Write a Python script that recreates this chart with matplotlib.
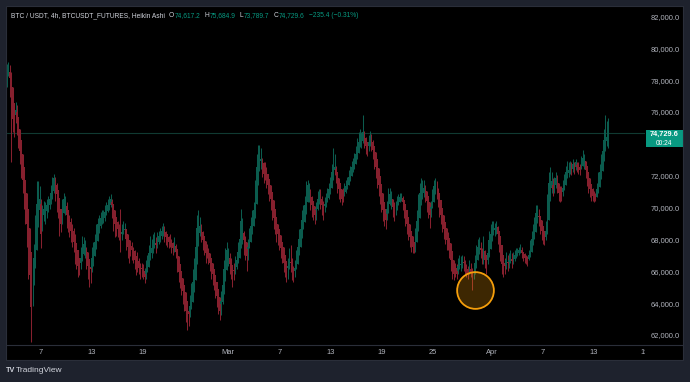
import numpy as np
import matplotlib
matplotlib.use('Agg')
import matplotlib.pyplot as plt
from matplotlib.patches import Rectangle
from matplotlib.lines import Line2D

plt.rcParams['font.family'] = ['Liberation Sans', 'DejaVu Sans']

W, H = 690, 382

# BTCUSDT perp, 4h Heikin Ashi candles, one row per day (values in k USDT)
start = np.datetime64('2026-02-03T00:00')
first_open = 78.0

ha_close = [
    78.6, 78.9, 78.2, 76.8, 75.6, 75.2,  # Feb 3
    76.2, 75.4, 74.3, 73.6, 72.6, 71.8,
    71.0, 70.2, 69.0, 67.6, 65.8, 63.8,
    65.6, 66.9, 68.6, 70.3, 71.0, 70.6,
    68.4, 69.8, 70.0, 69.9, 70.2, 70.4,  # Feb 7
    70.6, 71.0, 71.5, 71.9, 71.4, 70.9,
    70.2, 69.2, 69.0, 70.0, 70.6, 70.2,
    69.6, 69.2, 68.8, 68.6, 68.3, 67.9,
    67.4, 67.0, 66.4, 66.2, 66.9, 67.6,
    67.8, 67.6, 67.0, 66.4, 65.8, 66.2,
    66.9, 67.5, 67.9, 68.5, 69.0, 69.3,  # Feb 13
    69.4, 69.6, 69.5, 69.8, 70.1, 70.2,
    70.4, 70.6, 70.2, 69.5, 69.0, 68.8,
    68.7, 68.4, 68.2, 68.5, 68.9, 68.7,
    68.1, 67.6, 67.3, 67.6, 67.4, 67.1,
    66.8, 66.4, 66.7, 66.3, 66.0, 66.2,
    65.9, 65.7, 66.2, 66.6, 67.2, 67.7,  # Feb 19
    67.5, 67.9, 68.0, 67.7, 68.1, 68.3,
    68.4, 68.6, 68.8, 68.5, 68.2, 68.0,
    67.9, 68.0, 67.6, 67.5, 67.7, 67.3,
    66.6, 66.0, 65.7, 65.2, 64.8, 64.3,
    63.6, 63.0, 63.4, 63.9, 64.6, 65.4,
    66.2, 67.6, 68.8, 69.2, 68.9, 68.4,
    68.0, 67.6, 67.2, 67.4, 67.0, 66.6,
    66.2, 65.9, 65.4, 65.0, 64.5, 64.0,
    63.6, 64.2, 65.2, 66.2, 66.9, 67.4,
    67.0, 66.5, 66.2, 65.8, 66.1, 66.5,  # Mar 1
    66.8, 67.3, 68.1, 69.2, 68.6, 68.0,
    67.5, 67.0, 67.6, 68.3, 68.9, 69.4,
    69.9, 71.2, 72.6, 73.3, 73.6, 73.1,
    72.7, 72.2, 72.4, 71.9, 71.5, 71.1,
    70.6, 70.0, 69.4, 69.0, 68.6, 68.4,
    68.0, 67.5, 67.2, 66.6, 66.3, 65.9,  # Mar 7
    66.4, 66.9, 66.6, 66.1, 65.8, 66.3,
    66.9, 67.6, 68.1, 68.7, 69.3, 69.6,
    70.2, 71.1, 71.5, 71.0, 70.5, 70.2,
    69.9, 69.6, 70.0, 70.6, 71.0, 70.6,
    70.2, 69.9, 70.3, 70.6, 70.9, 71.2,
    71.6, 72.3, 73.0, 72.6, 72.1, 71.6,  # Mar 13
    71.2, 70.9, 70.6, 70.9, 71.2, 71.4,
    71.7, 72.0, 72.3, 72.6, 72.8, 73.0,
    73.4, 73.9, 74.2, 74.6, 74.3, 74.8,
    74.3, 73.9, 73.7, 74.2, 74.5, 74.1,
    73.7, 73.2, 72.6, 72.0, 71.5, 71.0,
    70.4, 69.9, 69.5, 69.3, 70.0, 70.7,  # Mar 19
    70.9, 70.6, 70.1, 69.8, 70.1, 70.4,
    70.6, 70.7, 70.8, 70.4, 70.0, 69.5,
    69.0, 68.6, 68.2, 67.9, 67.6, 67.4,
    68.2, 69.2, 70.3, 71.0, 71.4, 71.2,
    71.3, 71.0, 70.5, 70.0, 69.6, 70.1,
    70.8, 71.4, 71.6, 71.2, 70.7, 70.1,  # Mar 25
    69.6, 69.1, 68.7, 68.4, 68.0, 67.9,
    67.5, 66.8, 66.2, 65.9, 66.2, 65.9,
    66.4, 66.7, 66.5, 66.8, 66.6, 66.3,
    66.0, 65.9, 66.3, 66.0, 65.8, 66.0,
    66.6, 67.2, 67.6, 67.9, 67.4, 67.0,
    67.5, 66.8, 66.4, 67.2, 68.0, 68.4,
    68.7, 69.0, 68.8, 68.9, 68.4, 67.9,  # Apr 1
    67.2, 66.5, 66.0, 66.4, 66.8, 66.6,
    66.8, 67.0, 66.7, 66.9, 67.1, 67.2,
    67.3, 67.4, 67.5, 67.2, 67.0, 66.9,
    66.8, 66.7, 67.1, 67.6, 68.1, 68.5,
    69.0, 69.7, 69.9, 69.5, 69.0, 68.6,
    68.2, 67.9, 68.6, 70.2, 71.6, 72.1,  # Apr 7
    71.7, 71.2, 71.6, 71.9, 71.5, 71.0,
    70.8, 71.0, 71.3, 71.8, 72.3, 72.6,
    72.4, 72.7, 72.5, 72.8, 72.6, 72.9,
    72.6, 72.5, 72.4, 72.9, 73.2, 73.0,
    72.4, 71.9, 71.5, 71.2, 70.9, 70.8,
    70.7, 70.6, 71.2, 71.8, 72.3, 72.9,  # Apr 13
    73.6, 74.3, 74.9, 74.5, 74.7296,
]

ha_high = [
    79.1, 79.2, 79.0, 78.6, 77.2, 76.3,
    76.7, 76.5, 75.6, 74.6, 73.8, 73.2,
    71.8, 71.2, 70.4, 69.2, 67.8, 66.2,
    66.6, 67.8, 69.6, 71.7, 71.7, 71.4,
    70.6, 70.2, 70.5, 70.4, 70.6, 70.8,
    71.0, 71.5, 72.0, 72.2, 72.0, 71.6,
    70.9, 70.4, 69.8, 70.6, 71.0, 70.8,
    70.4, 69.9, 69.6, 69.4, 69.0, 68.8,
    68.4, 67.8, 67.4, 66.8, 67.6, 68.3,
    68.2, 68.0, 67.6, 67.3, 66.6, 66.8,
    67.6, 67.9, 68.4, 69.0, 69.4, 69.6,
    69.8, 69.9, 69.9, 70.2, 70.4, 70.6,
    70.8, 70.9, 70.6, 70.3, 69.8, 69.4,
    69.2, 69.0, 70.0, 69.0, 69.2, 69.1,
    68.6, 68.2, 67.8, 68.0, 67.9, 67.6,
    67.4, 67.0, 67.3, 66.9, 66.6, 66.6,
    66.5, 66.3, 66.8, 67.1, 67.7, 68.3,
    68.1, 68.4, 68.5, 68.2, 68.5, 68.6,
    68.8, 68.9, 69.1, 68.9, 68.6, 68.4,
    68.3, 68.4, 68.1, 67.9, 68.2, 67.8,
    67.3, 66.8, 66.4, 66.0, 65.4, 65.1,
    64.5, 63.9, 63.9, 64.6, 65.3, 66.2,
    66.9, 68.2, 69.6, 69.9, 69.5, 69.0,
    68.6, 68.1, 67.8, 67.8, 67.5, 67.2,
    66.8, 66.5, 66.0, 65.6, 65.2, 64.8,
    64.2, 64.8, 65.8, 66.8, 67.5, 67.9,
    67.5, 67.2, 66.9, 66.4, 66.6, 67.0,
    67.3, 67.9, 68.9, 70.0, 69.4, 68.6,
    68.3, 67.7, 68.1, 68.8, 69.5, 69.9,
    70.4, 71.8, 73.4, 74.0, 74.0, 73.8,
    73.2, 72.9, 72.9, 72.6, 72.1, 71.8,
    71.2, 70.7, 70.1, 69.6, 69.2, 69.0,
    68.6, 68.2, 67.9, 67.4, 66.9, 66.6,
    66.9, 67.5, 67.7, 66.9, 66.4, 66.8,
    67.4, 68.1, 68.7, 69.2, 69.9, 70.2,
    70.8, 71.7, 71.8, 71.6, 71.2, 70.8,
    70.5, 70.1, 70.4, 71.1, 71.2, 71.2,
    70.8, 70.5, 70.7, 71.0, 71.3, 71.6,
    72.0, 72.8, 73.8, 73.4, 72.7, 72.2,
    71.8, 71.4, 71.2, 71.3, 71.6, 71.8,
    72.0, 72.4, 72.7, 73.0, 73.2, 73.5,
    73.9, 74.4, 74.8, 75.0, 74.8, 75.9,
    74.9, 74.5, 74.2, 74.6, 74.9, 74.7,
    74.3, 73.9, 73.4, 72.8, 72.2, 71.7,
    71.0, 70.5, 70.2, 70.0, 70.5, 71.3,
    71.3, 71.1, 70.6, 70.4, 70.5, 70.8,
    70.9, 71.0, 71.0, 70.8, 70.5, 70.1,
    69.6, 69.2, 68.8, 68.5, 68.2, 67.9,
    68.8, 69.9, 70.9, 71.6, 71.9, 71.8,
    71.8, 71.5, 71.1, 70.6, 70.1, 70.5,
    71.2, 71.8, 71.9, 71.7, 71.3, 70.8,
    70.2, 69.8, 69.3, 69.0, 68.7, 68.5,
    68.0, 67.6, 67.0, 66.6, 66.6, 66.5,
    66.9, 67.1, 67.0, 67.1, 67.0, 66.8,
    66.5, 66.4, 66.8, 66.6, 66.3, 66.6,
    67.1, 67.7, 68.1, 68.2, 67.9, 67.5,
    68.3, 67.4, 67.0, 67.8, 68.6, 69.0,
    69.2, 69.2, 69.1, 69.2, 68.9, 68.4,
    68.0, 67.5, 66.8, 66.9, 67.3, 67.1,
    67.2, 67.4, 67.2, 67.3, 67.4, 67.5,
    67.5, 67.6, 67.8, 67.6, 67.3, 67.2,
    67.1, 67.0, 67.4, 68.0, 68.6, 69.0,
    69.5, 70.2, 70.2, 70.0, 69.5, 69.1,
    68.7, 68.4, 69.2, 70.9, 72.3, 72.6,
    72.3, 71.9, 72.0, 72.3, 72.1, 71.6,
    71.4, 71.4, 71.8, 72.2, 72.7, 73.0,
    72.9, 73.0, 72.9, 73.1, 72.9, 73.1,
    72.9, 72.9, 72.8, 73.3, 73.7, 73.4,
    73.0, 72.5, 72.0, 71.7, 71.4, 71.3,
    71.1, 71.0, 71.6, 72.3, 72.8, 73.4,
    74.2, 75.0, 75.9, 75.5, 75.6849,
]

ha_low = [
    77.6, 78.3, 77.0, 72.9, 74.8, 74.5,
    75.4, 74.6, 73.8, 72.8, 71.9, 71.0,
    70.0, 69.0, 67.6, 65.6, 64.6, 61.6,
    63.9, 65.2, 66.8, 68.6, 69.8, 69.6,
    67.5, 68.6, 69.2, 69.0, 69.4, 69.8,
    70.0, 70.3, 70.6, 71.0, 70.5, 69.8,
    69.4, 68.3, 68.5, 69.0, 69.8, 69.6,
    68.8, 68.5, 68.2, 67.9, 67.6, 67.3,
    66.5, 66.2, 65.7, 65.8, 66.2, 67.0,
    67.1, 66.9, 66.2, 65.6, 65.1, 65.3,
    66.0, 66.4, 67.2, 67.6, 68.2, 68.6,
    68.8, 69.0, 69.1, 69.2, 69.6, 69.8,
    69.9, 70.1, 69.4, 68.6, 68.2, 68.3,
    68.2, 68.0, 67.3, 68.0, 68.4, 68.2,
    67.4, 66.9, 66.6, 67.0, 66.8, 66.6,
    66.2, 65.8, 66.0, 65.9, 65.6, 65.7,
    65.6, 65.3, 65.6, 66.1, 66.6, 67.0,
    66.9, 67.2, 67.5, 67.2, 67.5, 67.8,
    67.9, 68.1, 68.3, 67.9, 67.7, 67.6,
    67.5, 67.6, 67.2, 67.1, 67.3, 66.9,
    66.0, 65.4, 65.0, 64.6, 64.0, 63.6,
    62.9, 62.4, 62.6, 63.2, 63.7, 64.4,
    65.2, 66.0, 67.6, 68.3, 68.3, 67.9,
    67.4, 67.1, 66.6, 66.9, 66.5, 66.1,
    65.6, 65.2, 64.9, 64.4, 63.8, 63.4,
    63.0, 63.3, 64.0, 65.0, 66.0, 66.6,
    66.4, 65.9, 65.6, 65.1, 65.5, 65.9,
    66.2, 66.6, 67.2, 68.0, 67.8, 67.1,
    66.8, 66.1, 66.8, 67.5, 68.1, 68.6,
    69.2, 69.8, 71.1, 72.3, 72.8, 72.5,
    72.0, 71.6, 71.8, 71.3, 70.9, 70.5,
    69.9, 69.3, 68.7, 68.4, 67.9, 67.7,
    67.4, 66.9, 66.6, 66.0, 65.7, 65.4,
    65.6, 66.2, 66.0, 65.5, 65.4, 65.7,
    66.2, 66.9, 67.4, 67.9, 68.6, 69.0,
    69.4, 70.1, 70.9, 70.4, 69.9, 69.5,
    69.3, 69.0, 69.3, 69.9, 70.4, 70.0,
    69.6, 69.3, 69.8, 70.1, 70.4, 70.6,
    71.0, 71.4, 72.1, 72.1, 71.6, 71.0,
    70.6, 70.4, 70.2, 70.4, 70.8, 71.0,
    71.2, 71.5, 71.8, 72.1, 72.3, 72.5,
    72.8, 73.3, 73.7, 74.0, 73.8, 74.1,
    73.8, 73.4, 73.3, 73.6, 73.9, 73.6,
    73.1, 72.5, 71.9, 71.3, 70.8, 70.3,
    69.8, 69.2, 68.9, 68.7, 69.3, 69.7,
    70.2, 70.0, 69.5, 69.2, 69.6, 69.9,
    70.2, 70.4, 70.5, 69.9, 69.4, 68.9,
    68.4, 68.0, 67.6, 67.3, 67.2, 67.2,
    67.3, 68.0, 69.1, 70.2, 70.6, 70.6,
    70.7, 70.4, 69.8, 69.4, 68.8, 69.5,
    70.1, 70.6, 71.0, 70.6, 70.1, 69.5,
    69.0, 68.5, 68.1, 67.8, 67.4, 67.4,
    66.9, 66.1, 65.6, 65.5, 65.7, 65.6,
    65.9, 66.2, 66.1, 66.3, 66.1, 65.9,
    65.7, 65.6, 65.9, 65.7, 64.9, 65.6,
    65.9, 66.4, 67.0, 67.3, 66.9, 66.5,
    66.5, 66.3, 65.9, 66.5, 67.4, 67.9,
    68.1, 68.4, 68.3, 68.4, 67.8, 67.3,
    66.7, 65.9, 65.7, 65.9, 66.2, 66.1,
    66.3, 66.6, 66.3, 66.5, 66.7, 66.9,
    67.0, 67.1, 67.2, 66.9, 66.7, 66.6,
    66.5, 66.4, 66.8, 67.2, 67.6, 68.1,
    68.4, 68.8, 69.3, 68.9, 68.4, 68.0,
    67.8, 67.7, 68.0, 68.4, 70.0, 71.3,
    71.0, 70.8, 71.0, 71.3, 71.0, 70.5,
    70.4, 70.5, 70.8, 71.2, 71.7, 72.0,
    72.0, 72.2, 72.1, 72.3, 72.2, 72.4,
    72.3, 72.2, 72.1, 72.5, 72.8, 72.5,
    71.9, 71.4, 71.0, 70.7, 70.5, 70.5,
    70.4, 70.5, 70.7, 71.0, 71.8, 72.3,
    72.9, 73.5, 74.1, 73.9, 73.7897,
]

header_title = 'BTC / USDT, 4h, BTCUSDT_FUTURES, Heikin Ashi'
header_ohlc = [('O', '74,617.2'), ('H', '75,684.9'), ('L', '73,789.7'), ('C', '74,729.6')]
header_change = '\u2212235.4 (\u22120.31%)'
countdown = '00:24'

price_ticks = [62000, 64000, 66000, 68000, 70000, 72000, 74000, 76000, 78000, 80000, 82000]
date_ticks = ['2026-02-07', '2026-02-13', '2026-02-19', '2026-03-01', '2026-03-07', '2026-03-13',
              '2026-03-19', '2026-03-25', '2026-04-01', '2026-04-07', '2026-04-13', '2026-04-19']
date_labels = ['7', '13', '19', 'Mar', '7', '13', '19', '25', 'Apr', '7', '13', '19']

# the highlighted wick (orange circle)
mark_time = '2026-03-30T00:00'
mark_price = 64900

GREEN = '#0b5c4e'
RED = '#86202e'
TEXT = '#b2b5be'
BG = '#1e222d'
BORDER = '#2a2e39'

n = len(ha_close)
assert len(ha_high) == n and len(ha_low) == n

close = np.array(ha_close) * 1000
high_in = np.array(ha_high) * 1000
low_in = np.array(ha_low) * 1000
opn = np.empty(n)
opn[0] = first_open * 1000
for i in range(1, n):
    opn[i] = (opn[i - 1] + close[i - 1]) / 2
high = np.maximum(high_in, np.maximum(opn, close))
low = np.minimum(low_in, np.minimum(opn, close))

x = np.arange(n) / 6.0  # days since start (4h bars)


def day(s):
    return (np.datetime64(s) - start) / np.timedelta64(1, 'D')


def rect(x0, y0, x1, y1):
    # pixel box (top-left origin) -> figure fraction
    return [x0 / W, 1 - y1 / H, (x1 - x0) / W, (y1 - y0) / H]


fig = plt.figure(figsize=(W / 100, H / 100), dpi=100, facecolor=BG)

# black chart panel behind everything
fig.patches.append(Rectangle((6 / W, 1 - 360 / H), 677 / W, 354 / H, transform=fig.transFigure,
                             facecolor='black', edgecolor='none', zorder=-5))

ax = fig.add_axes(rect(6, 6, 645, 345))
axp = fig.add_axes(rect(645, 6, 683, 345))
axt = fig.add_axes(rect(6, 345, 645, 360))
for a in (ax, axp, axt):
    a.set_facecolor('black')
    a.set_xticks([])
    a.set_yticks([])
    for s in a.spines.values():
        s.set_visible(False)

xlim = (-1 / 8.508, 638 / 8.508)
ylim = (61435, 82716)
ax.set_xlim(*xlim)
ax.set_ylim(*ylim)
axp.set_xlim(0, 1)
axp.set_ylim(*ylim)
axt.set_xlim(*xlim)
axt.set_ylim(0, 1)

up = close >= opn
colors = np.where(up, GREEN, RED)
ax.vlines(x, low, high, colors=colors, lw=0.75, zorder=2)
ax.bar(x, np.abs(close - opn), bottom=np.minimum(opn, close), width=0.15,
       color=colors, linewidth=0, zorder=3)

# last price line
last = close[-1]
ax.axhline(last, color='#103a32', lw=0.8, zorder=1)

# highlighted wick
ax.scatter([day(mark_time)], [mark_price], s=700, facecolors=[(0.96, 0.62, 0.04, 0.25)],
           edgecolors='#f59e0b', linewidths=1.3, zorder=5)

# last price label box (display px)
yd = ax.transData.transform((0, last))[1]
box_top, box_bot = yd + 3, yd - 14
fy = yd / H
fig.patches.append(Rectangle((645.5 / W, box_bot / H), 37.5 / W, 17 / H, transform=fig.transFigure,
                             facecolor='#089981', edgecolor='none', zorder=20))
fig.text(664 / W, fy - 1.5 / H, f'{last:,.1f}', color='white', fontsize=5.3, fontweight='bold',
         ha='center', va='center', zorder=21)
fig.text(664 / W, fy - 10.5 / H, countdown, color='white', fontsize=4.8, ha='center', va='center', zorder=21)

# price scale (labels under the last price box are hidden, as on TradingView)
for p in price_ticks:
    py = ax.transData.transform((0, p))[1]
    if box_bot - 4 < py < box_top + 4:
        continue
    axp.text(0.92, p, f'{p:,.1f}', color=TEXT, fontsize=5.4, ha='right', va='center')

# time scale
for d, lab in zip(date_ticks, date_labels):
    axt.text(day(d), 0.47, lab, color=TEXT, fontsize=5.4, ha='center', va='center', clip_on=True)

# borders
fig.add_artist(Line2D([6 / W, 683 / W], [1 - 345 / H, 1 - 345 / H], color=BORDER, lw=0.8))
fig.patches.append(Rectangle((6 / W, 1 - 360 / H), 677 / W, 354 / H, transform=fig.transFigure,
                             fill=False, edgecolor=BORDER, lw=0.8, zorder=30))

# header legend
renderer = fig.canvas.get_renderer()
hy = 1 - 15.5 / H
xpos = 11 / W


def put(s, color, gap=0.0, **kw):
    global xpos
    t = fig.text(xpos + gap / W, hy, s, color=color, fontsize=4.8, ha='left', va='center', **kw)
    xpos = t.get_window_extent(renderer).x1 / W
    return t


put(header_title, '#d1d4dc')
for k, v in header_ohlc:
    put(k, '#d1d4dc', gap=4)
    put(v, '#089981', gap=0.6)
put(header_change, '#089981', gap=4)

# TradingView logo
fig.text(6 / W, 1 - 371 / H, 'TV', color='#d1d4dc', fontsize=5.2, fontweight='bold', va='center', ha='left')
fig.text(16 / W, 1 - 371 / H, 'TradingView', color='#d1d4dc', fontsize=6, va='center', ha='left')

fig.savefig('out.png', dpi=100, facecolor=BG)
